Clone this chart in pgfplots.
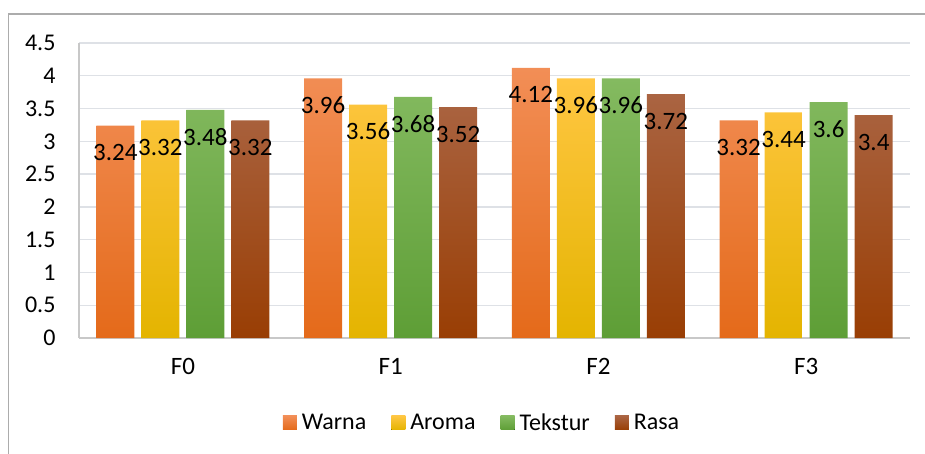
\documentclass[border=0pt]{standalone}
\usepackage{pgfplots}
\pgfplotsset{compat=1.18}
\usepackage{fontspec}
\setmainfont{Carlito}
\definecolor{wT}{RGB}{242,142,86}
\definecolor{wB}{RGB}{228,106,26}
\definecolor{aT}{RGB}{255,198,66}
\definecolor{aB}{RGB}{228,180,0}
\definecolor{tT}{RGB}{132,186,96}
\definecolor{tB}{RGB}{94,158,54}
\definecolor{rT}{RGB}{170,100,66}
\definecolor{rB}{RGB}{153,62,4}
\definecolor{gridc}{RGB}{222,225,230}
\definecolor{axc}{RGB}{200,200,200}
\definecolor{framec}{RGB}{172,172,172}
\begin{document}
\begin{tikzpicture}
\useasboundingbox (0,0) rectangle (925pt,453pt);
\draw[framec, line width=1.4pt] (8.5pt,-5pt) -- (8.5pt,439pt) -- (935pt,439pt);
\begin{axis}[
  at={(79pt,115pt)}, anchor=south west,
  scale only axis, width=831pt, height=295pt,
  ybar=7pt, bar width=38pt,
  xmin=-0.5, xmax=3.5, ymin=0, ymax=4.5,
  xtick={0,1,2,3}, xticklabels={F0,F1,F2,F3},
  ytick={0,0.5,1,1.5,2,2.5,3,3.5,4,4.5},
  axis lines*=left,
  axis line style={-, draw=axc, line width=1.2pt},
  ymajorgrids, grid style={gridc, line width=1.3pt},
  major tick length=0pt,
  /pgf/number format/assume math mode=true,
  yticklabel style={font=\fontsize{24}{26}\selectfont, text=black, xshift=-20pt},
  xticklabel style={font=\fontsize{25}{28}\selectfont, text=black, yshift=-17pt},
  legend style={at={(0.485,-0.288)}, anchor=center, draw=none, fill=none,
    font=\fontsize{24}{28}\selectfont, legend columns=-1,
    /tikz/every even column/.append style={column sep=23pt},
    /tikz/every odd column/.append style={column sep=3pt}},
  legend image code/.code={\fill[#1] (0pt,-7pt) rectangle (14pt,7pt);},
  nodes near coords,
  every node near coord/.append style={anchor=center, yshift=-27pt,
    font=\fontsize{25}{28}\selectfont, text=black, fill=none, draw=none},
]
\addplot[draw=none, top color=wT, bottom color=wB] coordinates {(0,3.24) (1,3.96) (2,4.12) (3,3.32)};
\addplot[draw=none, top color=aT, bottom color=aB] coordinates {(0,3.32) (1,3.56) (2,3.96) (3,3.44)};
\addplot[draw=none, top color=tT, bottom color=tB] coordinates {(0,3.48) (1,3.68) (2,3.96) (3,3.6)};
\addplot[draw=none, top color=rT, bottom color=rB] coordinates {(0,3.32) (1,3.52) (2,3.72) (3,3.4)};
\legend{Warna,Aroma,Tekstur,Rasa}
\end{axis}
\end{tikzpicture}
\end{document}
